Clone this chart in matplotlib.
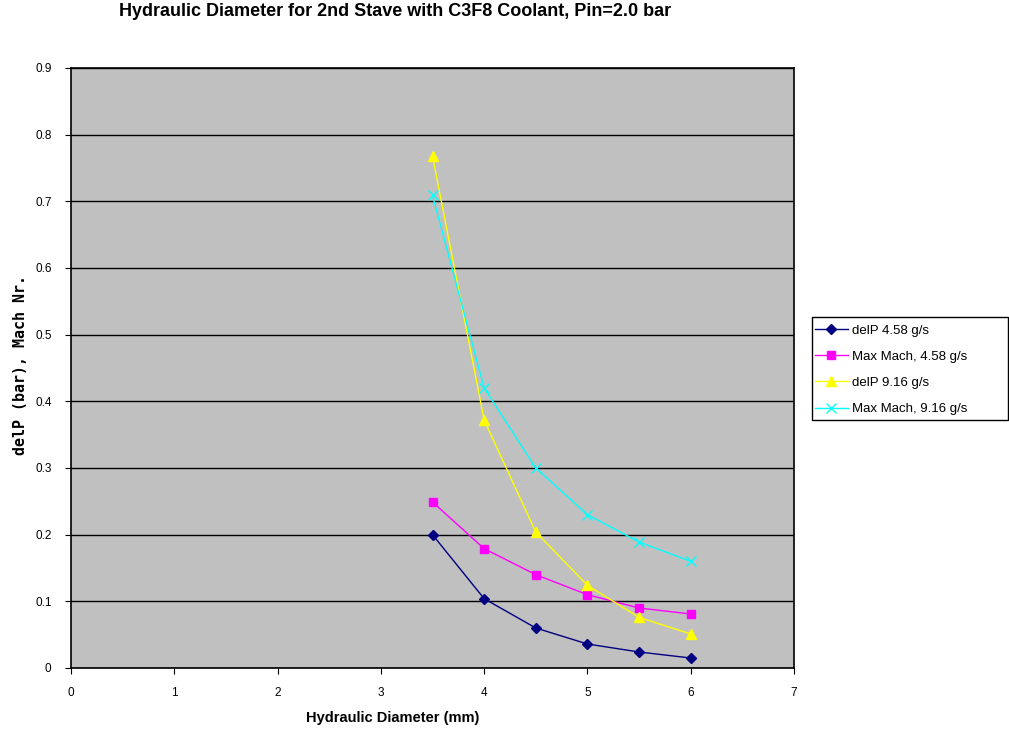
import matplotlib
matplotlib.use("Agg")
from matplotlib import pyplot as plt
from matplotlib.patches import Rectangle
import numpy as np

diameter = [3.5, 4.0, 4.5, 5.0, 5.5, 6.0]
delp_458 = [0.200, 0.104, 0.060, 0.036, 0.024, 0.015]
mach_458 = [0.249, 0.179, 0.140, 0.110, 0.090, 0.081]
delp_916 = [0.768, 0.372, 0.204, 0.124, 0.076, 0.051]
mach_916 = [0.709, 0.420, 0.300, 0.230, 0.189, 0.160]

plt.rcParams['font.family'] = ['Liberation Sans', 'DejaVu Sans']

W, H = 1009, 730
fig = plt.figure(figsize=(W / 100, H / 100), dpi=100)
ax = fig.add_axes([71/W, 1 - 668/H, (794-71)/W, (668-68)/H])
ax.set_facecolor('#c0c0c0')

ax.plot(diameter, delp_458, color='#000080', marker='D', ms=5.5, lw=1, label='delP 4.58 g/s')
ax.plot(diameter, mach_458, color='#ff00ff', marker='s', ms=6, lw=1, label='Max Mach, 4.58 g/s')
ax.plot(diameter, delp_916, color='#ffff00', marker='^', ms=7, lw=1, label='delP 9.16 g/s')
ax.plot(diameter, mach_916, color='#00ffff', marker='x', ms=7, mew=1, lw=1, label='Max Mach, 9.16 g/s')

ax.set_xlim(0, 7)
ax.set_ylim(0, 0.9)
ax.set_xticks(np.arange(0, 8, 1))
ax.set_yticks(np.round(np.arange(0, 1.0, 0.1), 1))
ax.set_yticklabels(['0'] + ['%.1f' % v for v in np.arange(0.1, 1.0, 0.1)])
ax.yaxis.grid(True, color='black', lw=1)
ax.set_axisbelow(True)
for s in ax.spines.values():
    s.set_linewidth(1.2)
ax.tick_params(direction='out', length=4, labelsize=8.5, pad=10)

ax.set_xlabel('Hydraulic Diameter (mm)', fontsize=10.5, fontweight='bold')
ax.xaxis.set_label_coords((393-71)/723, -(711-668)/600)
ax.set_ylabel('delP (bar), Mach Nr.', fontsize=10.8, fontweight='bold',
              family='DejaVu Sans Mono')
ax.yaxis.set_label_coords(-(71-28)/723, (668-365)/600)
fig.text(395/W, 1 - 11/H, 'Hydraulic Diameter for 2nd Stave with C3F8 Coolant, Pin=2.0 bar',
         ha='center', va='center', fontsize=13, fontweight='bold')

# legend box is wider than its entries, so the frame is drawn separately
ax.add_patch(Rectangle((812/W, 1 - 420/H), (1008-812)/W, (420-317)/H,
                       transform=fig.transFigure, facecolor='white',
                       edgecolor='black', lw=1, zorder=4, clip_on=False))
leg = ax.legend(loc='upper left', bbox_to_anchor=(812/W, 1 - 322/H),
                bbox_transform=fig.transFigure, fontsize=9.5, frameon=False,
                handlelength=2.5, handletextpad=0.35, borderpad=0.2,
                labelspacing=1.05, borderaxespad=0)
leg.set_zorder(6)

fig.savefig('out.png', dpi=100)
